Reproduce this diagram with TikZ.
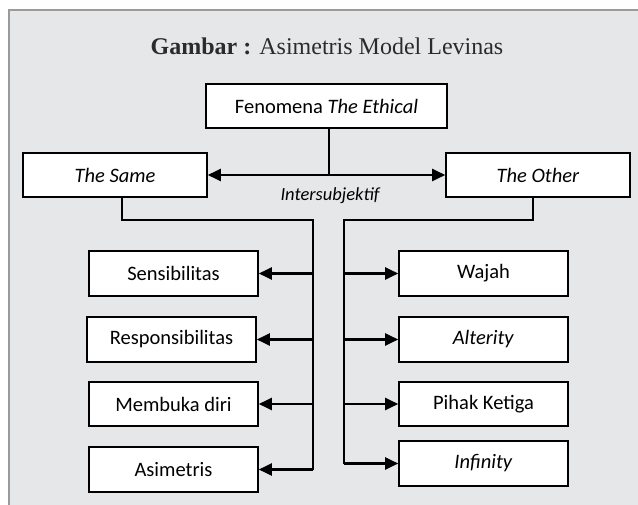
\documentclass[tikz,border=0pt]{standalone}
\usepackage{fontspec}
\setmainfont{Liberation Serif}
\newfontfamily\calfont{Carlito}
\usetikzlibrary{arrows.meta}
\definecolor{bgc}{HTML}{E6E7E9}
\definecolor{framec}{HTML}{9A9A9A}
\definecolor{titlec}{HTML}{2B2B2B}
\begin{document}
\begin{tikzpicture}[x=1pt,y=-1pt,
  box/.style={draw=black, line width=1.6pt, fill=white, inner sep=0pt, font=\calfont\fontsize{20.5}{24}\selectfont},
  conn/.style={line width=2.2pt},
  tip/.style={-{Triangle[length=13pt,width=12pt]}},
  arr/.style={conn, tip}]
\path[use as bounding box] (0,0) rectangle (638,505);
\fill[white] (0,0) rectangle (638,505);
\fill[bgc] (9,10) rectangle (638,505);
\draw[framec, line width=2.5pt] (9,505) -- (9,10) -- (638,10);

\node[anchor=base, font=\fontsize{24}{28}\selectfont, text=titlec] (title) at (327,55) {\textbf{Gambar :} Asimetris Model Levinas};

\node[box, minimum width=241pt, minimum height=44pt] (fen) at (326.5,106) {Fenomena \textit{The Ethical}};
\node[box, minimum width=184pt, minimum height=44pt] (same) at (115,175) {\textit{The Same}};
\node[box, minimum width=184pt, minimum height=44pt] (other) at (538,175) {\textit{The Other}};

\node[box, minimum width=169pt, minimum height=45pt] (sens) at (173.5,273.5) {Sensibilitas};
\node[box, minimum width=169pt, minimum height=45pt] (resp) at (171.5,339.5) {Responsibilitas};
\node[box, minimum width=169pt, minimum height=44pt] (memb) at (173.5,404) {Membuka diri};
\node[box, minimum width=169pt, minimum height=45pt] (asim) at (173.5,469.5) {Asimetris};

\node[box, minimum width=169pt, minimum height=45pt] (waj) at (483.5,273.5) {Wajah};
\node[box, minimum width=169pt, minimum height=45pt] (alt) at (483.5,339.5) {\textit{Alterity}};
\node[box, minimum width=169pt, minimum height=44pt] (pih) at (483.5,404) {Pihak Ketiga};
\node[box, minimum width=169pt, minimum height=45pt] (inf) at (483.5,463.5) {\textit{Infinity}};

\node[font=\calfont\itshape\fontsize{18.5}{21}\selectfont] (inter) at (330,196) {Intersubjektif};

\draw[conn, {Triangle[length=13pt,width=12pt]}-{Triangle[length=13pt,width=12pt]}] (same) -- (other);
\draw[conn] ([xshift=2.5pt]fen.south) -- ([xshift=2.5pt]fen.south |- same);

\coordinate (lb) at (313,220);
\coordinate (rb) at (344,220);
\draw[conn] ([xshift=7pt]same.south) |- (lb) -- (lb |- asim.east);
\draw[conn] ([xshift=-5pt]other.south) |- (rb) -- (rb |- inf.west);

\draw[arr] (lb |- sens.east) -- (sens.east);
\draw[arr] (lb |- resp.east) -- (resp.east);
\draw[arr] (lb |- memb.east) -- (memb.east);
\draw[arr] (lb |- asim.east) -- (asim.east);

\draw[arr] (rb |- waj.west) -- (waj.west);
\draw[arr] (rb |- alt.west) -- (alt.west);
\draw[arr] (rb |- pih.west) -- (pih.west);
\draw[arr] (rb |- inf.west) -- (inf.west);
\end{tikzpicture}
\end{document}
